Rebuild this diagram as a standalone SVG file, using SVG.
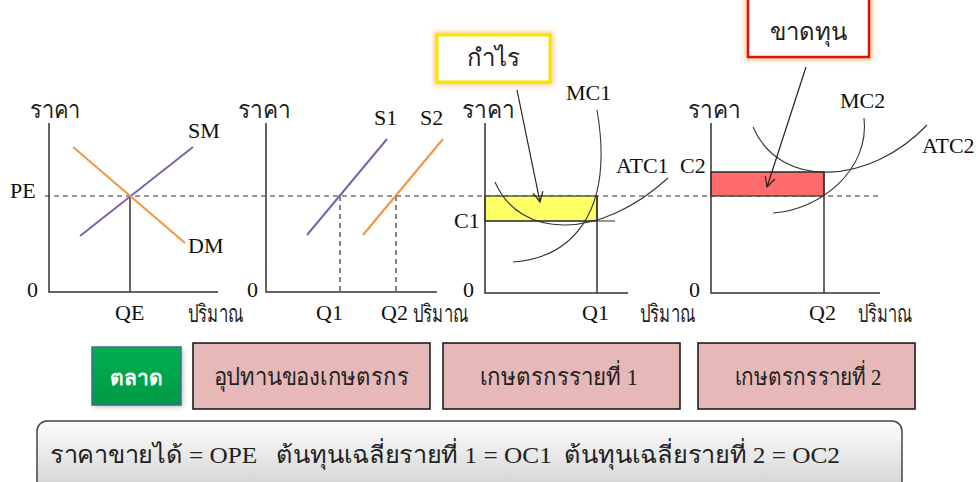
<svg xmlns="http://www.w3.org/2000/svg" width="980" height="482" viewBox="0 0 980 482">
<defs>
<style>
.ax{stroke:#333;stroke-width:1.5;fill:none}
.dash{stroke:#333;stroke-width:1.2;stroke-dasharray:5,4;fill:none}
.cv{stroke:#333;stroke-width:1.1;fill:none}
.pur{stroke:#7f63a8;stroke-width:2;fill:none}
.org{stroke:#f39440;stroke-width:2;fill:none}
.t{font-family:"Liberation Serif","Noto Sans",serif;font-size:22px;fill:#111}
.th{font-family:"Liberation Serif","Noto Sans",serif;font-size:24px;fill:#222}
.pk{fill:#e6b8b7;stroke:#111;stroke-width:1.5}
</style>
<marker id="ah" markerWidth="12" markerHeight="12" refX="10" refY="6" orient="auto" markerUnits="userSpaceOnUse">
<path d="M0,1 L10,6 L0,11" fill="none" stroke="#222" stroke-width="1.2"/>
</marker>
<filter id="glow" x="-20%" y="-30%" width="140%" height="160%">
<feGaussianBlur stdDeviation="2.5"/>
</filter>
<linearGradient id="gb" x1="0" y1="0" x2="0" y2="1">
<stop offset="0" stop-color="#fdfdfd"/>
<stop offset="1" stop-color="#cfcfcf"/>
</linearGradient>
<linearGradient id="gg" x1="0" y1="0" x2="0" y2="1">
<stop offset="0" stop-color="#00b050"/>
<stop offset="1" stop-color="#009a44"/>
</linearGradient>
</defs>

<line class="dash" x1="45" y1="196" x2="878" y2="196"/>

<g id="panel-market">
<text class="th" x="30" y="118" textLength="50" lengthAdjust="spacingAndGlyphs">ราคา</text>
<polyline class="ax" points="49,123 49,292 218,292"/>
<line class="ax" x1="130" y1="196" x2="130" y2="292"/>
<line class="pur" x1="80" y1="236" x2="193" y2="147"/>
<line class="org" x1="73" y1="147" x2="185" y2="243"/>
<text class="t" x="188" y="138">SM</text>
<text class="t" x="188" y="253">DM</text>
<text class="t" x="10" y="198">PE</text>
<text class="t" x="27" y="297">0</text>
<text class="t" x="115" y="320">QE</text>
<text class="th" x="188" y="322" font-size="19" textLength="55" lengthAdjust="spacingAndGlyphs">ปริมาณ</text>
</g>

<g id="panel-supply">
<text class="th" x="238" y="118" textLength="52" lengthAdjust="spacingAndGlyphs">ราคา</text>
<polyline class="ax" points="266,123 266,292 437,292"/>
<line class="dash" x1="340" y1="196" x2="340" y2="292"/>
<line class="dash" x1="396" y1="196" x2="396" y2="292"/>
<line class="pur" x1="307" y1="235" x2="387" y2="139"/>
<line class="org" x1="363" y1="235" x2="443" y2="139"/>
<text class="t" x="374" y="125">S1</text>
<text class="t" x="420" y="125">S2</text>
<text class="t" x="247" y="297">0</text>
<text class="t" x="316" y="320">Q1</text>
<text class="t" x="381" y="320">Q2</text>
<text class="th" x="413" y="322" font-size="19" textLength="55" lengthAdjust="spacingAndGlyphs">ปริมาณ</text>
</g>

<g id="panel-farmer1">
<rect x="485" y="196" width="112" height="25" fill="#ffff66" stroke="#333" stroke-width="1.2"/>
<text class="th" x="462" y="118" textLength="52" lengthAdjust="spacingAndGlyphs">ราคา</text>
<polyline class="ax" points="485,123 485,293 628,293"/>
<line class="ax" x1="597" y1="196" x2="597" y2="293"/>
<line class="cv" x1="485" y1="221" x2="615" y2="221"/>
<path class="cv" d="M513,262 C570,258 615,215 597,110"/>
<path class="cv" d="M495,182 C520,240 600,240 668,178"/>
<text class="t" x="566" y="100">MC1</text>
<text class="t" x="616" y="173">ATC1</text>
<text class="t" x="454" y="228">C1</text>
<text class="t" x="463" y="297">0</text>
<text class="t" x="582" y="320">Q1</text>
<text class="th" x="640" y="322" font-size="19" textLength="55" lengthAdjust="spacingAndGlyphs">ปริมาณ</text>
</g>

<g id="panel-farmer2">
<rect x="711" y="172" width="113" height="24" fill="#ff6b6b" stroke="#333" stroke-width="1.2"/>
<text class="th" x="688" y="118" textLength="52" lengthAdjust="spacingAndGlyphs">ราคา</text>
<polyline class="ax" points="711,123 711,293 880,293"/>
<line class="ax" x1="824" y1="172" x2="824" y2="293"/>
<line class="cv" x1="711" y1="172" x2="824" y2="172"/>
<path class="cv" d="M773,213 C820,210 870,170 864,118"/>
<path class="cv" d="M753,127 C780,190 870,185 927,125"/>
<text class="t" x="840" y="108">MC2</text>
<text class="t" x="922" y="153">ATC2</text>
<text class="t" x="680" y="173">C2</text>
<text class="t" x="689" y="297">0</text>
<text class="t" x="809" y="320">Q2</text>
<text class="th" x="858" y="322" font-size="19" textLength="54" lengthAdjust="spacingAndGlyphs">ปริมาณ</text>
</g>

<g id="profit-label">
<rect x="437" y="35" width="113" height="47" fill="none" stroke="#ffc27a" stroke-width="6" filter="url(#glow)"/>
<rect x="437" y="35" width="113" height="47" fill="#fff" stroke="#f5e600" stroke-width="3"/>
<text class="th" x="493" y="66" font-size="26" text-anchor="middle">กำไร</text>
</g>

<g id="loss-label">
<rect x="748" y="-10" width="121" height="67" fill="none" stroke="#ffc27a" stroke-width="6" filter="url(#glow)"/>
<rect x="748" y="-10" width="121" height="67" fill="#fff" stroke="#e01010" stroke-width="2.5"/>
<text class="th" x="808" y="40" font-size="26" text-anchor="middle">ขาดทุน</text>
</g>

<g id="connectors">
<line x1="517" y1="90" x2="540" y2="202" stroke="#222" stroke-width="1.2" marker-end="url(#ah)"/>
<line x1="806" y1="67" x2="767" y2="187" stroke="#222" stroke-width="1.2" marker-end="url(#ah)"/>
</g>

<g id="btn-market">
<rect x="94" y="349" width="89" height="58" fill="#000" opacity="0.25" filter="url(#glow)"/>
<rect x="92" y="347" width="89" height="58" fill="url(#gg)" stroke="#3f6e9a" stroke-width="1.5"/>
<text x="136" y="385" text-anchor="middle" font-family="'Liberation Sans','Noto Sans',sans-serif" font-size="21" font-weight="bold" fill="#fff">ตลาด</text>
</g>

<g id="box-supply">
<rect class="pk" x="193" y="343" width="237" height="66"/>
<text class="th" x="311" y="385" text-anchor="middle" textLength="195" lengthAdjust="spacingAndGlyphs">อุปทานของเกษตรกร</text>
</g>
<g id="box-farmer1">
<rect class="pk" x="443" y="343" width="237" height="66"/>
<text class="th" x="559" y="385" text-anchor="middle" textLength="158" lengthAdjust="spacingAndGlyphs">เกษตรกรรายที่ 1</text>
</g>
<g id="box-farmer2">
<rect class="pk" x="698" y="343" width="217" height="66"/>
<text class="th" x="808" y="385" text-anchor="middle" textLength="147" lengthAdjust="spacingAndGlyphs">เกษตรกรรายที่ 2</text>
</g>

<g id="summary">
<rect x="37" y="421" width="865" height="75" rx="10" fill="url(#gb)" stroke="#444" stroke-width="1.5"/>
<text class="th" x="50" y="463" font-size="26" textLength="790" lengthAdjust="spacingAndGlyphs" xml:space="preserve">ราคาขายได้ = OPE   ต้นทุนเฉลี่ยรายที่ 1 = OC1  ต้นทุนเฉลี่ยรายที่ 2 = OC2</text>
</g>
</svg>
